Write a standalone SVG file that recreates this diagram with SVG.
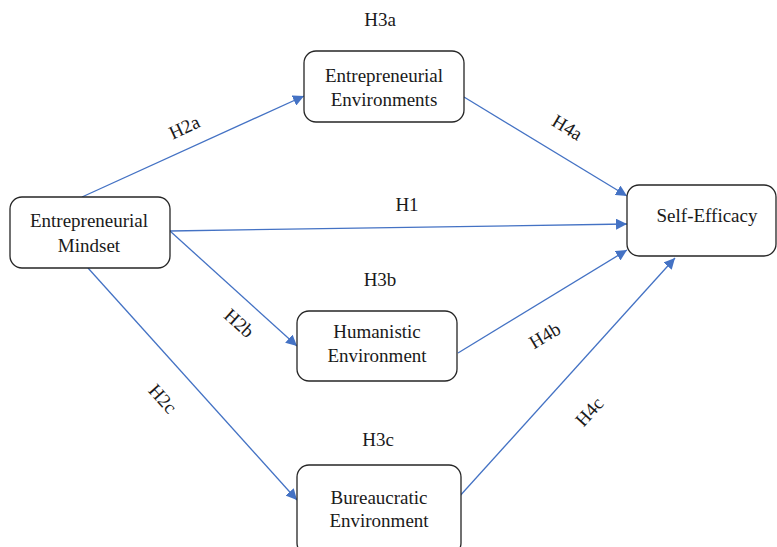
<svg xmlns="http://www.w3.org/2000/svg" width="777" height="547" viewBox="0 0 777 547">
<style>
.box{fill:#fff;stroke:#262626;stroke-width:1.3}
.t{font-family:'Liberation Serif','Times New Roman',serif;font-size:19px;fill:#1a1a1a;text-anchor:middle}
.c{stroke:#4472C4;stroke-width:1.3;fill:none;marker-end:url(#ah)}
</style>
<defs>
<marker id="ah" viewBox="0 0 10 10" refX="10" refY="5" markerWidth="11" markerHeight="11" markerUnits="userSpaceOnUse" orient="auto">
<path d="M0,0 L10,5 L0,10 Z" fill="#4472C4"/>
</marker>
</defs>
<rect width="777" height="547" fill="#fff"/>
<g id="connectors">
<line class="c" x1="82" y1="197" x2="304" y2="96"/>
<line class="c" x1="170" y1="231" x2="627" y2="224"/>
<line class="c" x1="170" y1="231" x2="297" y2="346"/>
<line class="c" x1="88" y1="268" x2="297" y2="500"/>
<line class="c" x1="464" y1="97" x2="627" y2="196"/>
<line class="c" x1="458" y1="353" x2="627" y2="250"/>
<line class="c" x1="458" y1="498" x2="675" y2="258"/>
</g>
<g id="labels">
<text class="t" x="380" y="26">H3a</text>
<text class="t" x="380" y="286">H3b</text>
<text class="t" x="378" y="446">H3c</text>
<text class="t" x="407" y="211">H1</text>
<text class="t" transform="translate(187,133) rotate(-25)">H2a</text>
<text class="t" transform="translate(235,328) rotate(42)">H2b</text>
<text class="t" transform="translate(158,403) rotate(48)">H2c</text>
<text class="t" transform="translate(564,133) rotate(31)">H4a</text>
<text class="t" transform="translate(548,341) rotate(-31)">H4b</text>
<text class="t" transform="translate(594,416) rotate(-48)">H4c</text>
</g>
<g id="mindset">
<rect class="box" x="10" y="197" width="160" height="71" rx="12"/>
<text class="t" x="89" y="227">Entrepreneurial</text>
<text class="t" x="89" y="252">Mindset</text>
</g>
<g id="entEnv">
<rect class="box" x="304" y="51" width="160" height="71" rx="12"/>
<text class="t" x="384" y="82">Entrepreneurial</text>
<text class="t" x="384" y="106">Environments</text>
</g>
<g id="selfEfficacy">
<rect class="box" x="627" y="185" width="149" height="71" rx="12"/>
<text class="t" x="707" y="222">Self-Efficacy</text>
</g>
<g id="humEnv">
<rect class="box" x="297" y="311" width="160" height="70" rx="12"/>
<text class="t" x="377" y="338">Humanistic</text>
<text class="t" x="377" y="362">Environment</text>
</g>
<g id="burEnv">
<rect class="box" x="297" y="465" width="164" height="90" rx="12"/>
<text class="t" x="379" y="504">Bureaucratic</text>
<text class="t" x="379" y="527">Environment</text>
</g>
</svg>
